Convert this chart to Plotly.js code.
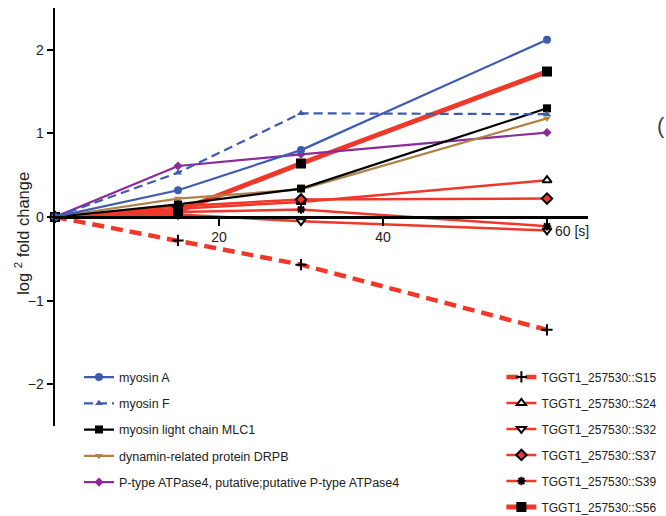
<!DOCTYPE html>
<html>
<head>
<meta charset="utf-8">
<script src="https://cdn.plot.ly/plotly-3.0.1.min.js"></script>
<style>html,body{margin:0;padding:0;background:#fff;}#chart{width:666px;height:516px;}</style>
</head>
<body>
<div id="chart"></div>
<script>
// Time points (s)
const timePoints = [0, 15, 30, 60];
// Protein-level series
const myosinA = [0, 0.32, 0.80, 2.12];
const myosinF = [0, 0.53, 1.24, 1.23];
const mlc1    = [0, 0.15, 0.34, 1.30];
const drpb    = [0, 0.22, 0.33, 1.18];
const atpase4 = [0, 0.61, 0.75, 1.01];
// Phosphosite series
const s15 = [0, -0.28, -0.57, -1.35];
const s24 = [0, 0.10, 0.18, 0.44];
const s32 = [0, 0.03, -0.05, -0.16];
const s37 = [0, 0.13, 0.21, 0.22];
const s39 = [0, 0.06, 0.09, -0.11];
const s56 = [0, 0.07, 0.64, 1.74];

const leftNames = ['myosin A', 'myosin F', 'myosin light chain MLC1', 'dynamin-related protein DRPB', 'P-type ATPase4, putative;putative P-type ATPase4'];
const rightNames = ['TGGT1_257530::S15', 'TGGT1_257530::S24', 'TGGT1_257530::S32', 'TGGT1_257530::S37', 'TGGT1_257530::S39', 'TGGT1_257530::S56'];
const xTickVals = [20, 40];
const xTickText = ['20', '40'];
const lastTime = 60;
const lastTimeLabel = '60 [s]';
const yTickVals = [-2, -1, 0, 1, 2];

const RED = '#F0382A', BLUE = '#3E5BB3', PURPLE = '#8B2A9B', BROWN = '#B08148', BLACK = '#000000';
const FONT = 'Liberation Sans, Arial, sans-serif';

function tr(y, name, legend, group, line, marker) {
  return {x: timePoints, y: y, name: name, type: 'scatter', mode: 'lines+markers',
    legend: legend, legendgroup: group, line: line, marker: marker, cliponaxis: false};
}

const data = [
  tr(s24, rightNames[1], 'legend2', 'r2', {color: RED, width: 2.5}, {symbol: 'triangle-up', size: 8, color: '#fff', line: {color: BLACK, width: 2}}),
  tr(s32, rightNames[2], 'legend2', 'r3', {color: RED, width: 2.5}, {symbol: 'triangle-down', size: 8, color: '#fff', line: {color: BLACK, width: 2}}),
  tr(s37, rightNames[3], 'legend2', 'r4', {color: RED, width: 2.5}, {symbol: 'diamond', size: 8, color: RED, line: {color: BLACK, width: 2}}),
  tr(s39, rightNames[4], 'legend2', 'r5', {color: RED, width: 2.5}, {symbol: 'asterisk-open', size: 7, color: BLACK, line: {color: BLACK, width: 2}}),
  tr(s15, rightNames[0], 'legend2', 'r1', {color: RED, width: 4.5, dash: '12px,7px'}, {symbol: 'cross-thin-open', size: 8, color: BLACK, line: {color: BLACK, width: 2}}),
  tr(s56, rightNames[5], 'legend2', 'r6', {color: RED, width: 5}, {symbol: 'square', size: 10, color: BLACK}),
  tr(atpase4, leftNames[4], 'legend', 'l5', {color: PURPLE, width: 2.2}, {symbol: 'diamond', size: 7, color: PURPLE}),
  tr(drpb, leftNames[3], 'legend', 'l4', {color: BROWN, width: 2.2}, {symbol: 'triangle-down', size: 7, color: BROWN}),
  tr(mlc1, leftNames[2], 'legend', 'l3', {color: BLACK, width: 2.2}, {symbol: 'square', size: 8, color: BLACK}),
  tr(myosinF, leftNames[1], 'legend', 'l2', {color: BLUE, width: 2.2, dash: '9px,5px'}, {symbol: 'triangle-up', size: 7, color: BLUE}),
  tr(myosinA, leftNames[0], 'legend', 'l1', {color: BLUE, width: 2.2}, {symbol: 'circle', size: 8, color: BLUE})
];
data.forEach(t => {
  t.legendrank = (t.legend === 'legend2' ? rightNames : leftNames).indexOf(t.name) + 1;
});

const layout = {
  width: 666, height: 516,
  margin: {l: 55, r: 78, t: 8, b: 90, autoexpand: false},
  paper_bgcolor: '#fff', plot_bgcolor: 'rgba(0,0,0,0)',
  font: {family: FONT, size: 14, color: '#222'},
  showlegend: true,
  xaxis: {
    range: [0, 65], anchor: 'free', position: 0.5,
    showgrid: false, zeroline: false, showline: true, linecolor: BLACK, linewidth: 2.5,
    ticks: 'outside', ticklen: 7, tickwidth: 2, tickcolor: BLACK,
    tickmode: 'array', tickvals: xTickVals, ticktext: xTickText,
    tickfont: {family: FONT, size: 14, color: '#222'}
  },
  yaxis: {
    range: [-2.5, 2.5], showgrid: false, zeroline: false, showline: true, linecolor: BLACK, linewidth: 2.5,
    ticks: 'outside', ticklen: 6, tickwidth: 2, tickcolor: BLACK,
    tickmode: 'array', tickvals: yTickVals,
    tickfont: {family: FONT, size: 14, color: '#222'}
  },
  legend: {
    x: 0.045, y: 0.152, xanchor: 'left', yanchor: 'top', bgcolor: 'rgba(0,0,0,0)',
    font: {family: FONT, size: 12.5, color: '#222'}, tracegroupgap: 7, itemwidth: 30
  },
  legend2: {
    x: 0.8375, y: 0.152, xanchor: 'left', yanchor: 'top', bgcolor: 'rgba(0,0,0,0)',
    font: {family: FONT, size: 12, color: '#222'}, tracegroupgap: 7, itemwidth: 30
  },
  shapes: [
    {type: 'line', xref: 'x', yref: 'y', ysizemode: 'pixel', yanchor: 0, x0: lastTime, x1: lastTime, y0: 0, y1: -7,
     line: {color: BLACK, width: 2}}
  ],
  annotations: [
    {text: lastTimeLabel, xref: 'x', yref: 'y', x: lastTime, y: 0, xanchor: 'left', yanchor: 'top', xshift: 6, yshift: -4, showarrow: false,
     font: {family: FONT, size: 14, color: '#222'}},
    {text: 'log <sup>2</sup> fold change', xref: 'paper', yref: 'paper', x: -0.062, y: 0.462, textangle: -90,
     xanchor: 'center', yanchor: 'middle', showarrow: false, font: {family: FONT, size: 16.5, color: '#222'}},
    {text: '(', xref: 'paper', yref: 'paper', x: 1.126, y: 0.72, xanchor: 'left', yanchor: 'middle', showarrow: false,
     font: {family: FONT, size: 22, color: '#444'}}
  ]
};

Plotly.newPlot('chart', data, layout, {displayModeBar: false, staticPlot: true});
</script>
</body>
</html>
